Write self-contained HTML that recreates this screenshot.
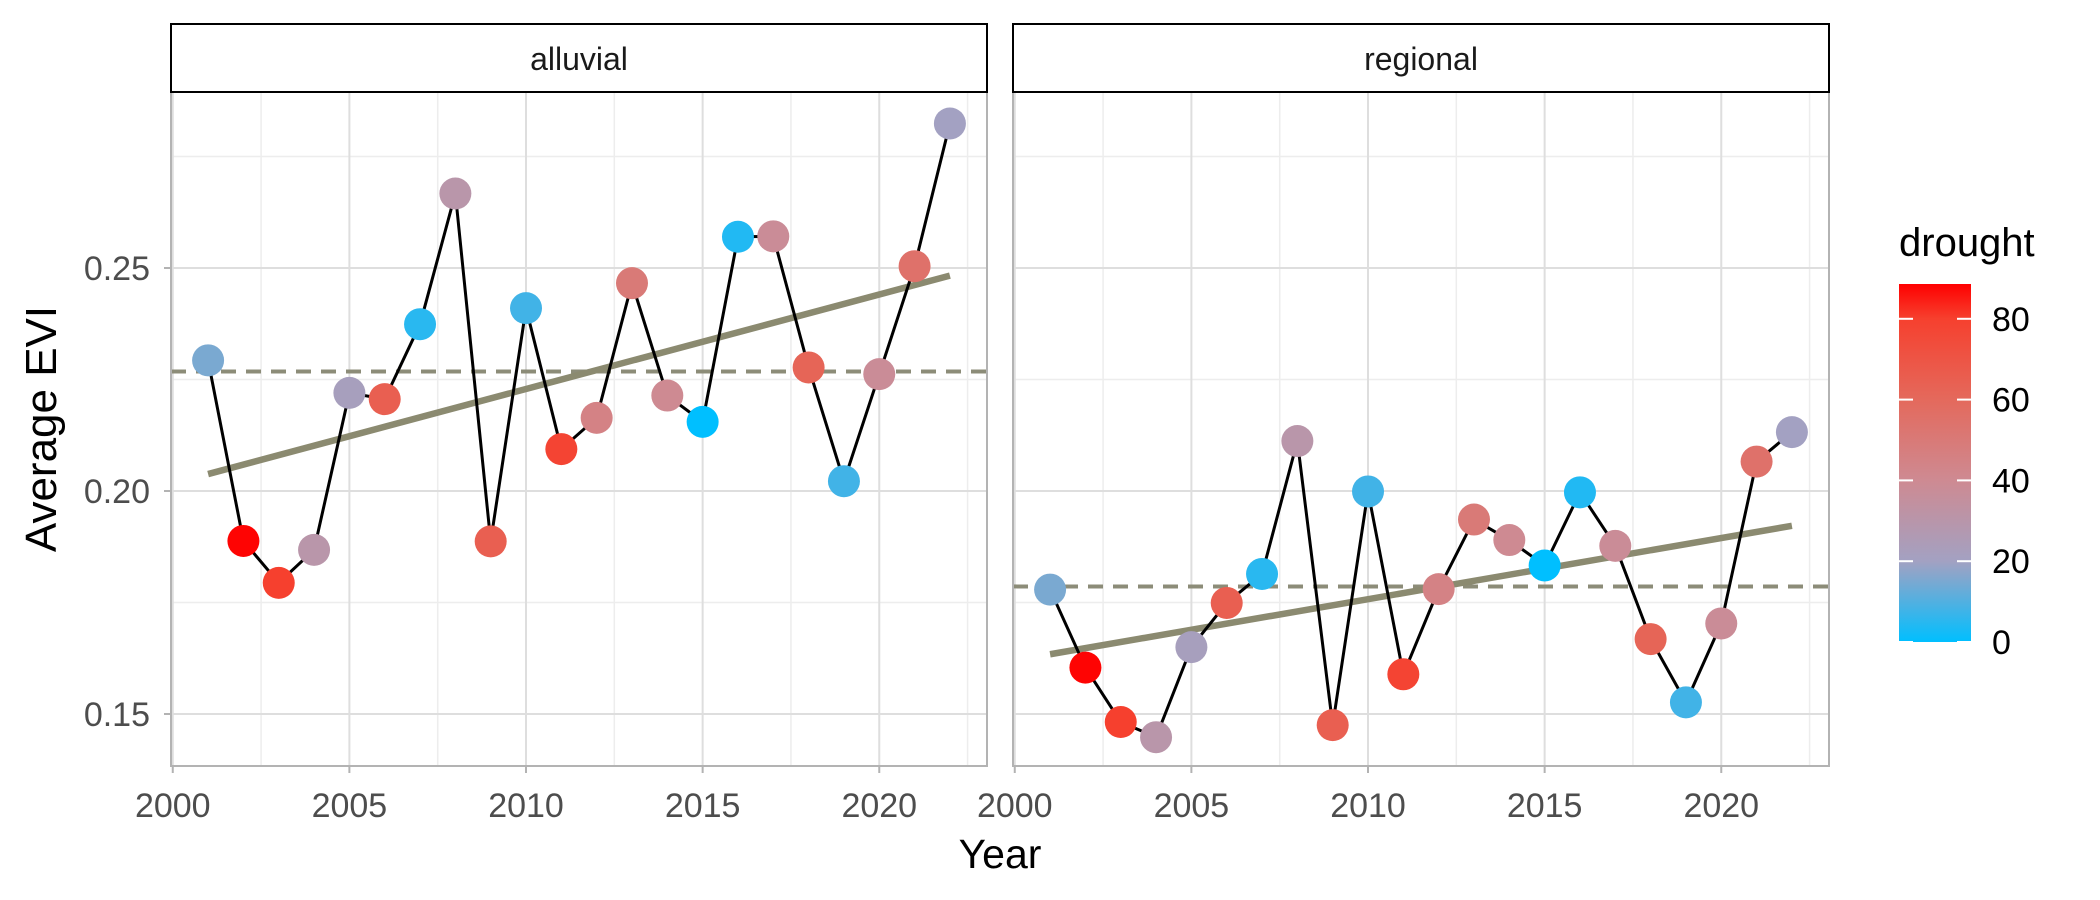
<!DOCTYPE html>
<html><head><meta charset="utf-8"><style>
html,body{margin:0;padding:0;background:#fff;}
svg{display:block;font-family:"Liberation Sans",sans-serif;}
</style></head><body>
<svg id="chart" width="2100" height="900" viewBox="0 0 2100 900">
<defs>
<linearGradient id="grad" x1="0" y1="1" x2="0" y2="0">
<stop offset="0" stop-color="#00BFFF"/><stop offset="0.2257" stop-color="#A3A1C2"/>
<stop offset="0.4515" stop-color="#CE8A92"/><stop offset="0.677" stop-color="#E4695C"/>
<stop offset="0.903" stop-color="#F6402E"/><stop offset="1" stop-color="#FF0000"/>
</linearGradient>
</defs>
<g id="root"></g>
</svg>
<script>
const years=[2001,2002,2003,2004,2005,2006,2007,2008,2009,2010,2011,2012,2013,2014,2015,2016,2017,2018,2019,2020,2021,2022];
const drought=[15,88,80,30,22,65,5,30,65,8,78,45,50,40,0,4,38,62,8,38,55,20];
const alluvialEVI=[0.2293,0.1888,0.1794,0.1868,0.2220,0.2206,0.2374,0.2667,0.1887,0.2410,0.2094,0.2164,0.2466,0.2214,0.2155,0.2570,0.2571,0.2277,0.2022,0.2262,0.2504,0.2824];
const regionalEVI=[0.1779,0.1604,0.1482,0.1448,0.1650,0.1749,0.1814,0.2112,0.1475,0.1999,0.1589,0.1780,0.1936,0.1890,0.1833,0.1997,0.1877,0.1668,0.1526,0.1703,0.2066,0.2132];
const alluvialMean=0.2268, regionalMean=0.1786;
const alluvialTrend=[0.2038,0.2483], regionalTrend=[0.1634,0.1922];
const xTicks=[2000,2005,2010,2015,2020];
const yTicks=[0.15,0.20,0.25];
const yTickLabels=["0.15","0.20","0.25"];
const legendTicks=[0,20,40,60,80];

const NS="http://www.w3.org/2000/svg";
const root=document.getElementById('root');
function mk(tag,attrs,parent,text){const e=document.createElementNS(NS,tag);for(const k in attrs)e.setAttribute(k,attrs[k]);if(text!==undefined)e.textContent=text;(parent||root).appendChild(e);return e;}
const PT=92,PB=766;
function y(v){return 268-(v-0.25)*4460;}
const stops=[[0,[0,191,255]],[20,[163,161,194]],[40,[206,138,146]],[60,[228,105,92]],[80,[246,64,46]],[88.6,[255,0,0]]];
function col(d){for(let i=1;i<stops.length;i++){if(d<=stops[i][0]){const a=stops[i-1],b=stops[i];const t=(d-a[0])/(b[0]-a[0]);const c=a[1].map((v,j)=>Math.round(v+(b[1][j]-v)*t));return `rgb(${c})`;}}return 'rgb(255,0,0)';}

const panels=[{name:'alluvial',L:171,R:987,data:alluvialEVI,mean:alluvialMean,trend:alluvialTrend},
{name:'regional',L:1013,R:1829,data:regionalEVI,mean:regionalMean,trend:regionalTrend}];
panels.forEach(p=>{
  const x=v=>p.L+(v-1999.95)*(p.R-p.L)/23.1;
  const g=mk('g',{});
  
  
  for(let v=2002.5;v<2023;v+=5) mk('line',{x1:x(v),x2:x(v),y1:PT,y2:PB,stroke:'#EDEDED','stroke-width':1.5},g);
  [0.175,0.225,0.275].forEach(v=>mk('line',{x1:p.L,x2:p.R,y1:y(v),y2:y(v),stroke:'#EDEDED','stroke-width':1.5},g));
  xTicks.forEach(v=>mk('line',{x1:x(v),x2:x(v),y1:PT,y2:PB,stroke:'#DEDEDE','stroke-width':2},g));
  yTicks.forEach(v=>mk('line',{x1:p.L,x2:p.R,y1:y(v),y2:y(v),stroke:'#DEDEDE','stroke-width':2},g));
  const ml=mk('line',{x1:p.L,x2:p.R,y1:y(p.mean),y2:y(p.mean),stroke:'#8C8C78','stroke-width':4,'stroke-dasharray':'15 10'},g);
  
  
  const tl=mk('line',{x1:x(years[0]),x2:x(years[years.length-1]),y1:y(p.trend[0]),y2:y(p.trend[1]),stroke:'#8B8A70','stroke-width':6.5},g);
  
  
  const pl=mk('polyline',{points:years.map((yr,i)=>x(yr)+','+y(p.data[i])).join(' '),fill:'none',stroke:'#000','stroke-width':3},g);
  
  
  years.forEach((yr,i)=>{const c=mk('circle',{cx:x(yr),cy:y(p.data[i]),r:16,fill:col(drought[i])},g);
    
    });
  mk('rect',{x:p.L,y:PT,width:p.R-p.L,height:PB-PT,fill:'none',stroke:'#B3B3B3','stroke-width':2},g);
  const st=mk('rect',{x:p.L,y:24,width:p.R-p.L,height:68,fill:'#fff',stroke:'#000','stroke-width':2},g);
  
  
  const stt=mk('text',{x:(p.L+p.R)/2,y:70,'text-anchor':'middle','font-size':32,fill:'#1a1a1a'},g,p.name);
  
  
  xTicks.forEach(v=>{mk('line',{x1:x(v),x2:x(v),y1:PB,y2:PB+7,stroke:'#B3B3B3','stroke-width':2},g);
    const t=mk('text',{x:x(v),y:817,'text-anchor':'middle','font-size':34,fill:'#4D4D4D'},g,v);
    
    });
});
yTicks.forEach((v,i)=>{mk('line',{x1:164,x2:171,y1:y(v),y2:y(v),stroke:'#B3B3B3','stroke-width':2});
  const t=mk('text',{x:150,y:y(v)+12,'text-anchor':'end','font-size':34,fill:'#4D4D4D'},root,yTickLabels[i]);
  
  });
const xt=mk('text',{x:1000,y:868,'text-anchor':'middle','font-size':41,fill:'#000'},root,'Year');


const yt=mk('text',{x:0,y:0,transform:'translate(56,429) rotate(-90)','text-anchor':'middle','font-size':44,fill:'#000'},root,'Average EVI');


const lt=mk('text',{x:1899,y:256,'font-size':40,fill:'#000'},root,'drought');


const lb=mk('rect',{x:1899,y:284,width:72,height:358,fill:'url(#grad)'});


legendTicks.forEach(v=>{const yy=642-v*4.04;
  mk('line',{x1:1899,x2:1913,y1:yy,y2:yy,stroke:'#fff','stroke-width':2});
  mk('line',{x1:1957,x2:1971,y1:yy,y2:yy,stroke:'#fff','stroke-width':2});
  const t=mk('text',{x:1992,y:yy+12,'font-size':34,fill:'#000'},root,v);
  
  });
</script>
</body></html>
